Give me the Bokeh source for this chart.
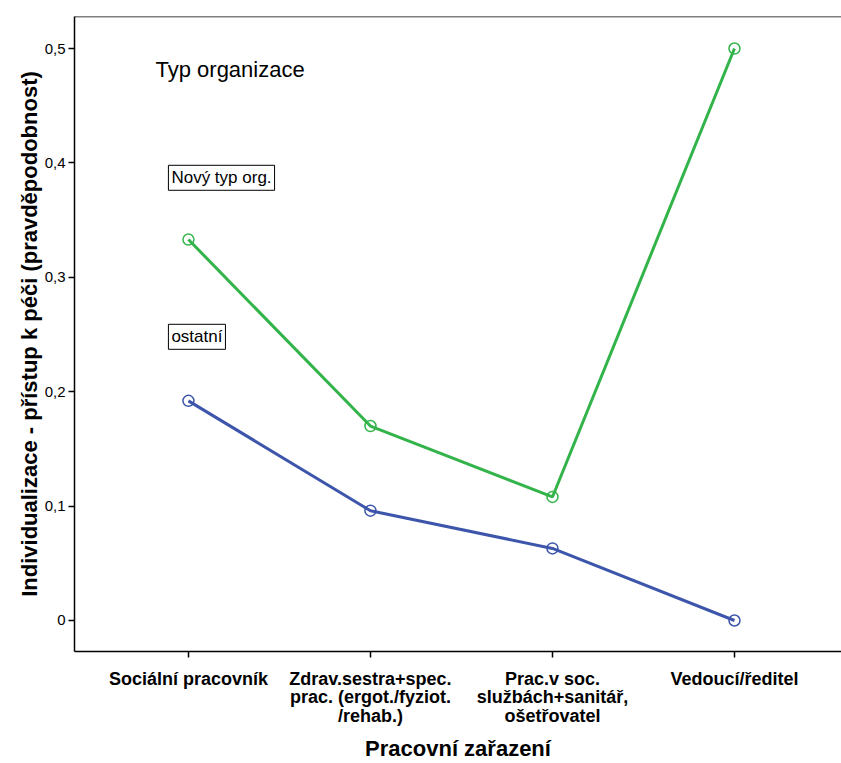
from bokeh.plotting import figure
from bokeh.models import Range1d, FixedTicker, Label, Span
from bokeh.embed import file_html
from bokeh.resources import INLINE

categories = ["Sociální pracovník",
              "Zdrav.sestra+spec.\nprac. (ergot./fyziot.\n/rehab.)",
              "Prac.v soc.\nslužbách+sanitář,\nošetřovatel",
              "Vedoucí/ředitel"]
novy_typ = [0.333, 0.170, 0.108, 0.500]
ostatni = [0.192, 0.096, 0.063, 0.000]
y_ticks = [0.0, 0.1, 0.2, 0.3, 0.4, 0.5]
y_tick_labels = ["0", "0,1", "0,2", "0,3", "0,4", "0,5"]
series_names = ["Nový typ org.", "ostatní"]
legend_title = "Typ organizace"

x = list(range(len(categories)))

GREEN = "#33b44a"
BLUE = "#3d56ab"
FONT = "Liberation Sans"

p = figure(width=841, height=763, output_backend="svg", toolbar_location=None,
           x_range=Range1d(-0.626, 3.588), y_range=Range1d(-0.0271, 0.528),
           min_border_left=74, min_border_top=16, min_border_right=0, min_border_bottom=112)
p.outline_line_color = None
p.xgrid.grid_line_color = None
p.ygrid.grid_line_color = None
p.background_fill_color = "white"
p.border_fill_color = "white"

top = Span(location=0.528, dimension="width", line_color="black", line_width=1.5)
p.add_layout(top)

p.line(x, novy_typ, line_color=GREEN, line_width=3)
p.scatter(x, novy_typ, marker="circle", size=11, fill_color=None, line_color=GREEN, line_width=1.5)
p.line(x, ostatni, line_color=BLUE, line_width=3)
p.scatter(x, ostatni, marker="circle", size=11, fill_color=None, line_color=BLUE, line_width=1.5)

# x axis
p.xaxis.ticker = FixedTicker(ticks=x)
p.xaxis.major_label_overrides = {i: c for i, c in zip(x, categories)}
p.xaxis.major_label_text_font = FONT
p.xaxis.major_label_text_font_style = "bold"
p.xaxis.major_label_text_font_size = "18px"
p.xaxis.major_label_text_line_height = 0.93
p.xaxis.major_label_text_color = "black"
p.xaxis.axis_label = "Pracovní zařazení"
p.xaxis.axis_label_text_font = FONT
p.xaxis.axis_label_text_font_style = "bold"
p.xaxis.axis_label_text_font_size = "22px"
p.xaxis.axis_label_text_color = "black"
p.xaxis.axis_label_standoff = 7
p.xaxis.minor_tick_line_color = None
p.xaxis.major_tick_out = 6
p.xaxis.major_tick_in = 0
p.xaxis.axis_line_width = 1.5
p.xaxis.major_tick_line_width = 1.5
p.xaxis.major_label_standoff = 11

# y axis
p.yaxis.ticker = FixedTicker(ticks=y_ticks)
p.yaxis.major_label_overrides = {t: l for t, l in zip(y_ticks, y_tick_labels)}
p.yaxis.major_label_text_font = FONT
p.yaxis.major_label_text_font_size = "15px"
p.yaxis.major_label_text_color = "black"
p.yaxis.axis_label = "Individualizace - přístup k péči (pravděpodobnost)"
p.yaxis.axis_label_text_font = FONT
p.yaxis.axis_label_text_font_style = "bold"
p.yaxis.axis_label_text_font_size = "22px"
p.yaxis.axis_label_text_color = "black"
p.yaxis.axis_label_standoff = 0
p.yaxis.minor_tick_line_color = None
p.yaxis.major_tick_out = 6
p.yaxis.major_tick_in = 0
p.yaxis.axis_line_width = 1.5
p.yaxis.major_tick_line_width = 1.5
p.yaxis.major_label_standoff = 3

p.add_layout(Label(x=-0.181, y=0.4816, text=legend_title, text_font=FONT,
                   text_font_size="22px", text_baseline="middle", text_color="black"))
p.add_layout(Label(x=-0.11, y=0.387, text=series_names[0], text_font=FONT,
                   text_font_size="17px", text_baseline="middle", text_color="black",
                   border_line_color="black", border_line_width=1, padding=3,
                   background_fill_color="white"))
p.add_layout(Label(x=-0.11, y=0.248, text=series_names[1], text_font=FONT,
                   text_font_size="17px", text_baseline="middle", text_color="black",
                   border_line_color="black", border_line_width=1, padding=3,
                   background_fill_color="white"))

open("out.html", "w").write(file_html(p, INLINE))
